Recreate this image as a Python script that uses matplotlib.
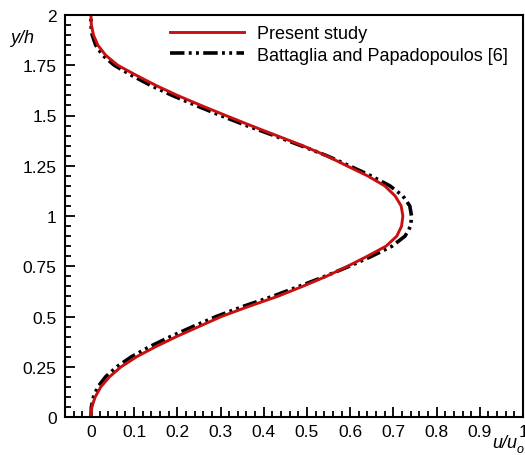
import matplotlib
matplotlib.use('Agg')
import matplotlib.pyplot as plt
from matplotlib.ticker import MultipleLocator, FuncFormatter

plt.rcParams['font.family'] = ['Liberation Sans', 'DejaVu Sans']

# y/h positions (shared by both profiles)
y_h = [0.00, 0.05, 0.10, 0.15, 0.20, 0.25, 0.30, 0.35, 0.40, 0.45,
       0.50, 0.55, 0.60, 0.65, 0.70, 0.75, 0.80, 0.85, 0.90, 0.95,
       1.00, 1.05, 1.10, 1.15, 1.20, 1.25, 1.30, 1.35, 1.40, 1.45,
       1.50, 1.55, 1.60, 1.65, 1.70, 1.75, 1.80, 1.85, 1.90, 1.95, 2.00]

# u/uo, present study
u_present = [0.000, 0.002, 0.010, 0.023, 0.043, 0.070, 0.106, 0.150, 0.198, 0.250,
             0.302, 0.365, 0.432, 0.490, 0.545, 0.594, 0.640, 0.683, 0.708, 0.719,
             0.722, 0.718, 0.704, 0.680, 0.640, 0.592, 0.545, 0.490, 0.430, 0.370,
             0.312, 0.255, 0.200, 0.150, 0.105, 0.062, 0.034, 0.016, 0.006, 0.001, 0.000]

# u/uo, Battaglia and Papadopoulos [6]
u_battaglia = [0.000, 0.001, 0.006, 0.016, 0.034, 0.060, 0.094, 0.136, 0.184, 0.236,
               0.290, 0.352, 0.420, 0.482, 0.542, 0.598, 0.650, 0.697, 0.727, 0.740,
               0.742, 0.738, 0.722, 0.692, 0.648, 0.598, 0.546, 0.486, 0.424, 0.360,
               0.300, 0.243, 0.188, 0.138, 0.094, 0.054, 0.027, 0.011, 0.003, 0.000, 0.000]

fig = plt.figure(figsize=(5.25, 4.56), dpi=100)
ax = fig.add_axes([65/525, 38/456, 458/525, 402/456])

ax.plot(u_battaglia, y_h, color='black', lw=2.6,
        linestyle=(0, (4, 1.2, 0.8, 1.2, 0.8, 1.2)),
        label='Battaglia and Papadopoulos [6]')
ax.plot(u_present, y_h, color='#c81010', lw=2.1, label='Present study')

ax.set_xlim(-0.06, 1.0)
ax.set_ylim(0, 2)

ax.xaxis.set_major_locator(MultipleLocator(0.1))
ax.xaxis.set_minor_locator(MultipleLocator(0.02))
ax.yaxis.set_major_locator(MultipleLocator(0.25))
ax.yaxis.set_minor_locator(MultipleLocator(0.05))
fmt = FuncFormatter(lambda v, p: '%g' % round(v, 2))
ax.xaxis.set_major_formatter(fmt)
ax.yaxis.set_major_formatter(fmt)

ax.tick_params(which='both', direction='in', top=False, right=False, width=1.3,
               labelsize=12.5)
ax.tick_params(which='major', length=7)
ax.tick_params(which='minor', length=4)
ax.tick_params(axis='y', pad=6)
ax.tick_params(axis='x', pad=5)
for s in ax.spines.values():
    s.set_linewidth(1.5)

handles, labels = ax.get_legend_handles_labels()
ax.legend(handles[::-1], labels[::-1], loc='upper left',
          bbox_to_anchor=(0.229, 0.975), frameon=False, fontsize=13,
          handlelength=4.1, handletextpad=0.7, labelspacing=0.25,
          borderpad=0, borderaxespad=0)

ax.text(-0.094, 0.945, 'y/h', transform=ax.transAxes, fontsize=13,
        fontstyle='italic', ha='center', va='center')
fig.text(505/525, 1 - 444/456, 'u/u', fontsize=13, fontstyle='italic',
         ha='center', va='center')
fig.text(520/525, 1 - 450/456, 'o', fontsize=9, fontstyle='italic',
         ha='center', va='center')

fig.savefig('out.png', dpi=100)
